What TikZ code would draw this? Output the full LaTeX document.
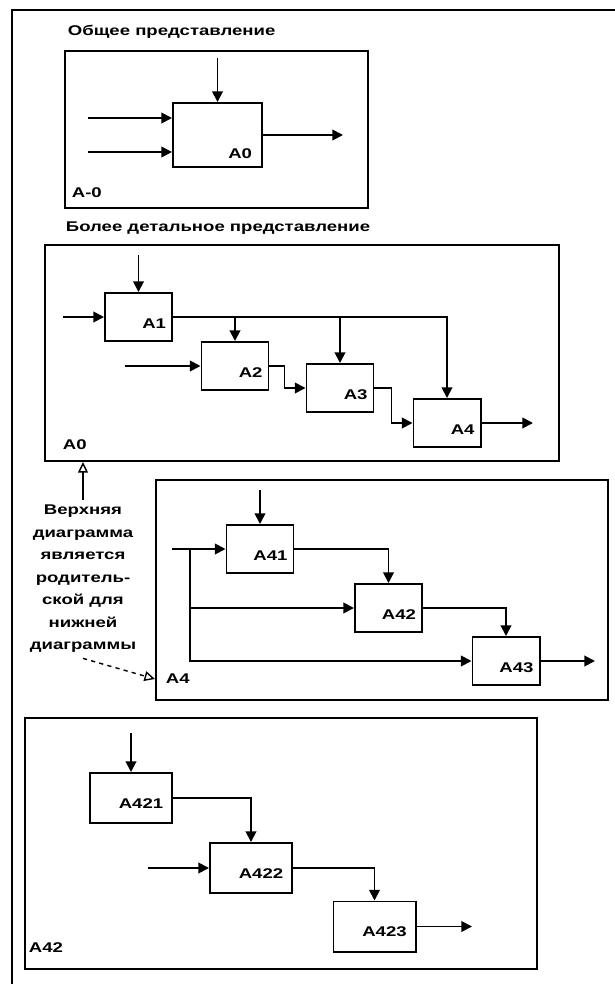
\documentclass[tikz,border=0pt]{standalone}
\usepackage{fontspec}
\setmainfont{Liberation Sans}[FakeStretch=1.32]
\usepackage{tikz}
\usetikzlibrary{positioning,arrows.meta,fit}

\begin{document}
\begin{tikzpicture}[
  x=0.025cm,y=-0.025cm,
  font=\bfseries\fontsize{10}{16}\selectfont,
  line width=1.3pt,
  frame/.style={draw,line width=1.4pt,inner sep=0pt},
  fn/.style={draw,line width=1.4pt,align=right,text depth=0pt,text height=15.7pt,inner xsep=0.15cm,text width=1.375cm,minimum height=1.2cm},
  fnbig/.style={fn,inner xsep=0.25cm,text width=1.725cm,minimum height=1.6cm,text height=32.8pt},
  fnwide/.style={fn,inner xsep=0.22cm,text width=1.61cm,minimum height=1.25cm,text height=14.3pt},
  flow/.style={-{Triangle[length=7.5pt,width=7.5pt]}},
  hint/.style={-{Triangle[open,length=7.5pt,width=7pt]},line width=1pt},
  ttl/.style={anchor=west,inner sep=0pt},
]
\useasboundingbox (0,0) rectangle (615,984);
\draw[line width=1.4pt] (12,984) -- (12,10) -- (615,10);

% general view
\node[ttl] (t0) at (67,32) {Общее представление};
\node[frame,fit={(65,51) (368,208)}] (fr0) {};
\node[fnbig] (a0) at (217.5,135) {A0};
\node[ttl] (l0) at (71,193) {A-0};
\coordinate (c0) at (217.5,58);
\coordinate (i01) at (88,118);
\coordinate (i02) at (88,152);
\coordinate (o0) at (343,135);
\draw[flow] (c0) -- (a0.north);
\draw[flow] (i01) -- (i01 -| a0.west);
\draw[flow] (i02) -- (i02 -| a0.west);
\draw[flow] (a0.east) -- (o0);

% detailed view
\node[ttl] (t1) at (65,228) {Более детальное представление};
\node[frame,fit={(45,245) (559,461)}] (fr1) {};
\node[fn] (a1) at (138.5,317) {A1};
\node[fn] (a2) at (235,366) {A2};
\node[fn] (a3) at (340,388) {A3};
\node[fn] (a4) at (447,423) {A4};
\node[ttl] (l1) at (62,445) {A0};
\coordinate (c1) at (138.5,255);
\coordinate (i1) at (63,317);
\coordinate (i2) at (125,366);
\coordinate (o4) at (533,423);
\draw[flow] (c1) -- (a1.north);
\draw[flow] (i1) -- (a1.west);
\draw[flow] (i2) -- (a2.west);
\draw[flow] (a1.east) -| (a4.north);
\draw[flow] (a1.east -| a2.north) -- (a2.north);
\draw[flow] (a1.east -| a3.north) -- (a3.north);
\draw[flow] (a2.east) -- ++(15,0) |- (a3.west);
\draw[flow] (a3.east) -- ++(17,0) |- (a4.west);
\draw[flow] (a4.east) -- (o4);

% decomposition of A4
\node[frame,fit={(156,480) (608,700)}] (fr2) {};
\node[fn] (a41) at (260,549) {A41};
\node[fn] (a42) at (388.5,608) {A42};
\node[fn] (a43) at (506,661) {A43};
\node[ttl] (l2) at (165,679) {A4};
\coordinate (c41) at (260,490);
\coordinate (i4) at (172,549);
\coordinate (j4) at (190,549);
\coordinate (o43) at (595,661);
\draw[flow] (c41) -- (a41.north);
\draw[flow] (i4) -- (a41.west);
\draw[flow] (j4) |- (a43.west);
\draw[flow] (j4 |- a42.west) -- (a42.west);
\draw[flow] (a41.east) -| (a42.north);
\draw[flow] (a42.east) -| (a43.north);
\draw[flow] (a43.east) -- (o43);

% decomposition of A42
\node[frame,fit={(25,718) (537,969)}] (fr3) {};
\node[fnwide] (a421) at (131,798) {A421};
\node[fnwide] (a422) at (251,868) {A422};
\node[fnwide] (a423) at (374.5,926.5) {A423};
\node[ttl] (l3) at (28,948) {A42};
\coordinate (c421) at (131,733);
\coordinate (i422) at (148,868);
\coordinate (o423) at (472,926.5);
\draw[flow] (c421) -- (a421.north);
\draw[flow] (a421.east) -| (a422.north);
\draw[flow] (i422) -- (a422.west);
\draw[flow] (a422.east) -| (a423.north);
\draw[flow] (a423.east) -- (o423);

% parent / child note
\node[align=center] (note) at (83,579) {Верхняя\\диаграмма\\является\\родитель-\\ской для\\нижней\\диаграммы};
\draw[hint] (note.north) -- (note.north |- fr1.south);
\draw[hint,dashed] (note.south) -- (fr2.west |- l2.west);
\end{tikzpicture}
\end{document}
